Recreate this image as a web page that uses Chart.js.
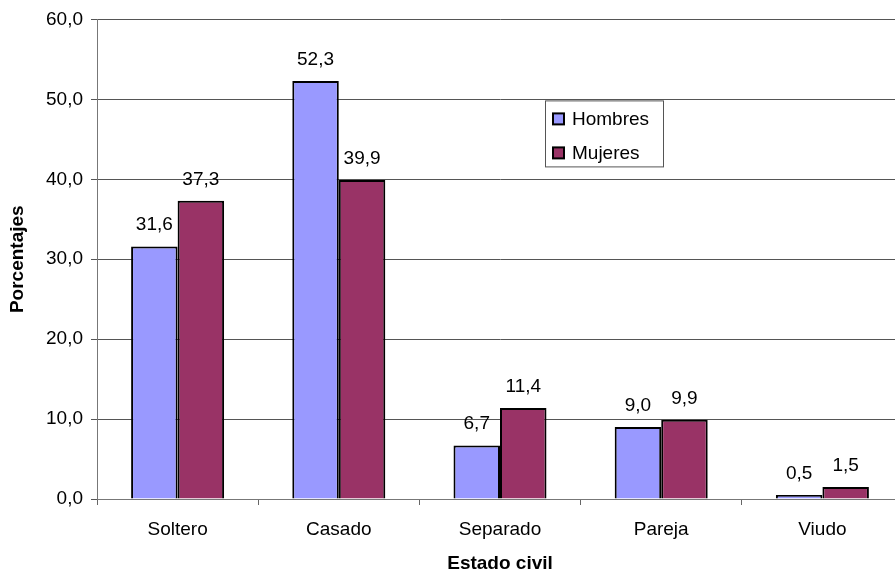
<!DOCTYPE html>
<html>
<head>
<meta charset="utf-8">
<script src="https://cdn.jsdelivr.net/npm/chart.js@4/dist/chart.umd.min.js"></script>
<style>
  html, body { margin: 0; padding: 0; background: #fff; overflow: hidden; }
  #wrap { width: 895px; height: 579px; overflow: hidden; }
</style>
</head>
<body>
<div id="wrap"><canvas id="chart" width="915" height="579"></canvas></div>
<script>
const categories = ['Soltero', 'Casado', 'Separado', 'Pareja', 'Viudo'];
const hombres = [31.6, 52.3, 6.7, 9.0, 0.5];
const mujeres = [37.3, 39.9, 11.4, 9.9, 1.5];
const seriesLabels = ['Hombres', 'Mujeres'];
const fontFamily = '"Liberation Sans", Arial, sans-serif';
const fontSize = 19;

const fmt = (v) => v.toFixed(1).replace('.', ',');

// value labels above each bar
const valueLabels = {
  id: 'valueLabels',
  afterDatasetsDraw(chart) {
    const ctx = chart.ctx;
    ctx.save();
    ctx.font = fontSize + 'px ' + fontFamily;
    ctx.fillStyle = '#000';
    ctx.textAlign = 'center';
    ctx.textBaseline = 'alphabetic';
    chart.data.datasets.forEach((ds, i) => {
      chart.getDatasetMeta(i).data.forEach((bar, j) => {
        ctx.fillText(fmt(ds.data[j]), bar.x, bar.y - 16);
      });
    });
    ctx.restore();
  }
};

// boxed legend inside the plot area
const boxLegend = {
  id: 'boxLegend',
  afterDraw(chart) {
    const ctx = chart.ctx;
    const area = chart.chartArea;
    const x = area.left + 448, y = area.top + 81, w = 118, h = 66;
    ctx.save();
    ctx.fillStyle = '#fff';
    ctx.fillRect(x, y, w, h);
    ctx.strokeStyle = '#555';
    ctx.lineWidth = 1;
    ctx.strokeRect(x + 0.5, y + 0.5, w, h);
    ctx.font = fontSize + 'px ' + fontFamily;
    ctx.textBaseline = 'middle';
    chart.data.datasets.forEach((ds, i) => {
      const ry = y + 18 + i * 34;
      ctx.fillStyle = ds.backgroundColor;
      ctx.fillRect(x + 8, ry - 5, 11, 11);
      ctx.strokeStyle = '#000';
      ctx.lineWidth = 2;
      ctx.strokeRect(x + 8, ry - 5, 11, 11);
      ctx.fillStyle = '#000';
      ctx.fillText(ds.label, x + 27, ry + 1);
    });
    ctx.restore();
  }
};

new Chart(document.getElementById('chart'), {
  type: 'bar',
  data: {
    labels: categories,
    datasets: [
      { label: seriesLabels[0], data: hombres, backgroundColor: '#9999FF', borderColor: '#000', borderWidth: 2 },
      { label: seriesLabels[1], data: mujeres, backgroundColor: '#993366', borderColor: '#000', borderWidth: 2 }
    ]
  },
  options: {
    responsive: false,
    animation: false,
    layout: { padding: { top: 19, right: 12, left: 0, bottom: 0 } },
    plugins: {
      legend: { display: false },
      tooltip: { enabled: false }
    },
    datasets: {
      bar: { categoryPercentage: 0.577, barPercentage: 1.0 }
    },
    scales: {
      x: {
        offset: true,
        grid: { offset: true, drawOnChartArea: false, color: '#666', tickLength: 6 },
        border: { color: '#777' },
        ticks: { color: '#000', font: { family: fontFamily, size: fontSize }, padding: 13 },
        title: { display: true, text: 'Estado civil', color: '#000', font: { family: fontFamily, size: fontSize, weight: 'bold' }, padding: { top: 8 } },
        afterFit(scale) { scale.height = 80; }
      },
      y: {
        min: 0,
        max: 60,
        ticks: { stepSize: 10, color: '#000', font: { family: fontFamily, size: fontSize }, padding: 8, callback: (v) => fmt(v) },
        grid: { color: '#555', tickLength: 6 },
        border: { color: '#777' },
        title: { display: true, text: 'Porcentajes', color: '#000', font: { family: fontFamily, size: fontSize, weight: 'bold' }, padding: { top: 6, bottom: 4 } },
        afterFit(scale) { scale.width = 97; }
      }
    }
  },
  plugins: [valueLabels, boxLegend]
});
</script>
</body>
</html>
